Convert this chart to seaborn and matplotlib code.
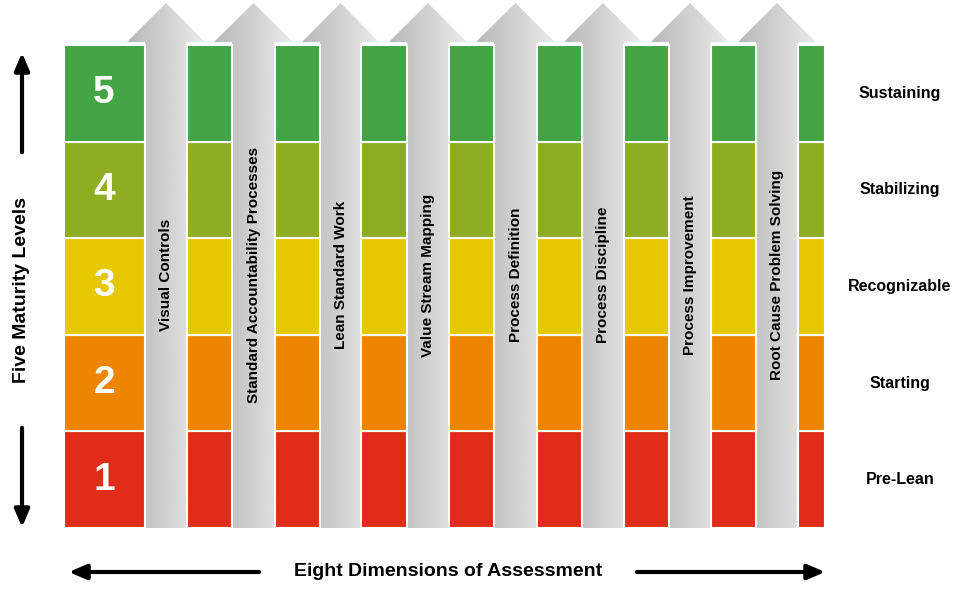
import numpy as np
import matplotlib.pyplot as plt
import seaborn as sns
from matplotlib.patches import Polygon, FancyArrowPatch

dimensions = ["Visual Controls", "Standard Accountability Processes", "Lean Standard Work",
              "Value Stream Mapping", "Process Definition", "Process Discipline",
              "Process Improvement", "Root Cause Problem Solving"]
levels = [1, 2, 3, 4, 5]
level_names = ["Pre-Lean", "Starting", "Recognizable", "Stabilizing", "Sustaining"]

sns.set_theme(style="white", font="Liberation Sans")
plt.rcParams["text.color"] = "black"
level_colors = ["#e02d1a", "#ee8500", "#e6c800", "#8fad23", "#43a443"]

fig = plt.figure(figsize=(9.8, 5.96), dpi=100)
ax = fig.add_axes([0, 0, 1, 1])
ax.set_xlim(0, 980)
ax.set_ylim(596, 0)
ax.axis("off")

# column geometry (pixels)
col_edges = [(64, 145), (187, 232), (275, 320), (361, 407), (449, 494),
             (537, 582), (624, 669), (711, 756), (798, 825)]
row_top, row_bot = 45, 528
row_h = (row_bot - row_top) / len(levels)

grad = np.linspace(0.72, 0.92, 100).reshape(1, -1)
for i, name in enumerate(dimensions):
    x0 = col_edges[i][1]
    x1 = col_edges[i + 1][0]
    cx = (x0 + x1) / 2
    poly = Polygon([(x0, row_bot), (x0, 42), (x0 - 18, 42), (cx, 3),
                    (x1 + 18, 42), (x1, 42), (x1, row_bot)], closed=True,
                   facecolor="none", edgecolor="none")
    ax.add_patch(poly)
    im = ax.imshow(grad, cmap="gray", vmin=0, vmax=1, aspect="auto",
                   extent=(x0 - 18, x1 + 18, row_bot, 3), zorder=1)
    im.set_clip_path(poly)
    ax.text(cx, 275, name, rotation=90, ha="center", va="center",
            fontsize=11, fontweight="bold", color="black", zorder=3)

for j, lvl in enumerate(levels):
    y_bottom = row_bot - j * row_h
    for k, (a, b) in enumerate(col_edges):
        ax.bar(a, -row_h, width=b - a, bottom=y_bottom, align="edge",
               color=level_colors[j], edgecolor="white", linewidth=1.5, zorder=2)
    yc = y_bottom - row_h / 2
    ax.text(104, yc, str(lvl), ha="center", va="center", fontsize=28,
            fontweight="bold", color="white", zorder=3)
    ax.text(900, yc, level_names[j], ha="center", va="center", fontsize=11.5,
            fontweight="bold", color="black")

style = "-|>,head_length=7,head_width=3"
# left axis arrow
ax.add_patch(FancyArrowPatch((22, 155), (22, 50), arrowstyle=style,
                             color="black", lw=3, mutation_scale=1.5))
ax.add_patch(FancyArrowPatch((22, 425), (22, 530), arrowstyle=style,
                             color="black", lw=3, mutation_scale=1.5))
ax.text(22, 290, "Five Maturity Levels", rotation=90, ha="center", va="center",
        fontsize=14, fontweight="bold", color="black")

# bottom axis arrow
ax.add_patch(FancyArrowPatch((262, 572), (66, 572), arrowstyle=style,
                             color="black", lw=3, mutation_scale=1.5))
ax.add_patch(FancyArrowPatch((634, 572), (828, 572), arrowstyle=style,
                             color="black", lw=3, mutation_scale=1.5))
ax.text(448, 571, "Eight Dimensions of Assessment", ha="center", va="center",
        fontsize=14, fontweight="bold", color="black")

plt.savefig("out.png", dpi=100)
